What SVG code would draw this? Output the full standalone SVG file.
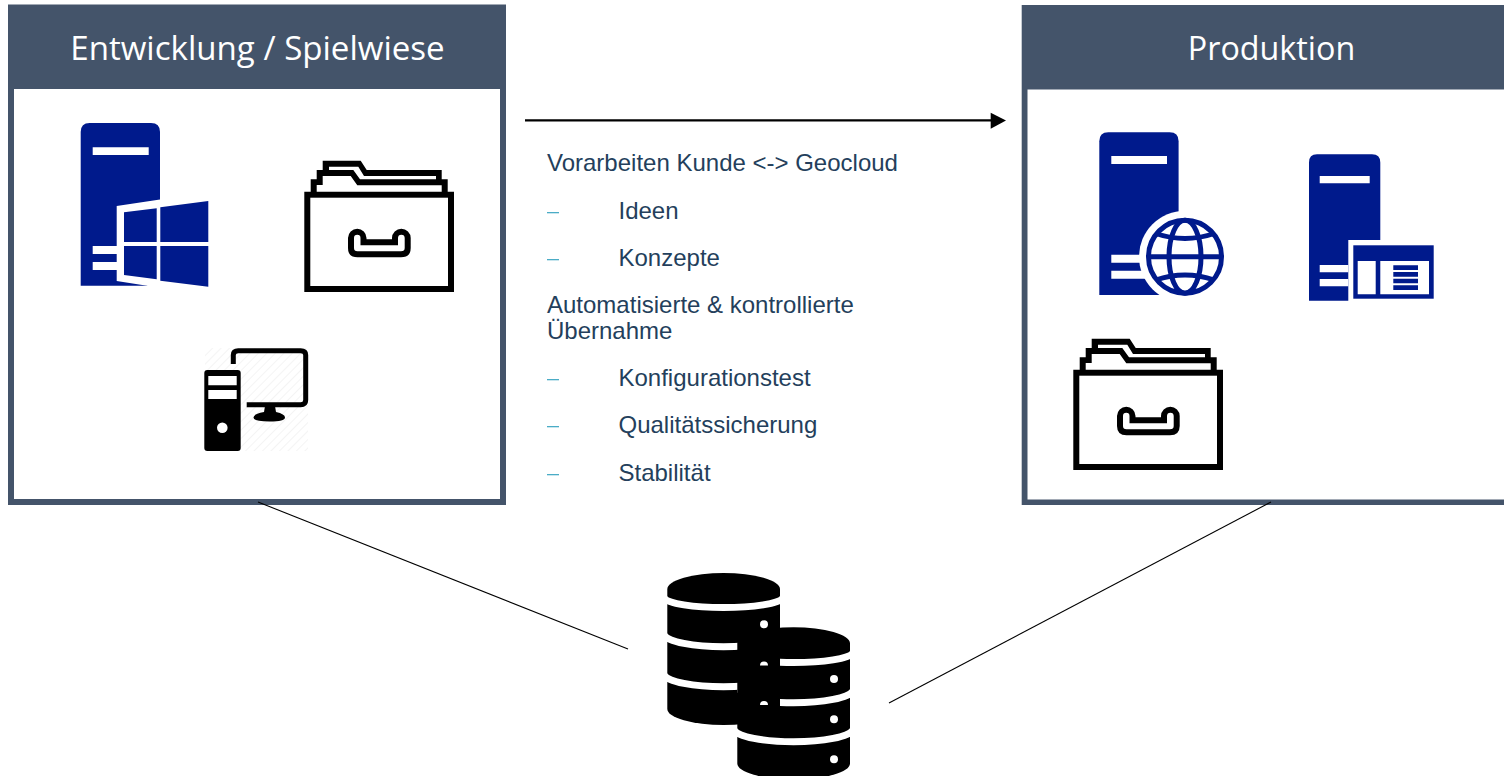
<svg xmlns="http://www.w3.org/2000/svg" xmlns:xlink="http://www.w3.org/1999/xlink" width="1504" height="776" viewBox="0 0 1504 776">
<style>
.head{font-family:"Open Sans","Noto Sans",sans-serif;font-weight:400;fill:#fff;text-anchor:middle}
.t{font-family:"Liberation Sans",Arial,sans-serif;font-size:24px;fill:#243f5c}
.dash{fill:#4bacc6}
.blue{fill:#001a8c}
.w{fill:#fff}
.ln{stroke:#000;stroke-width:1.1;fill:none}
.band{fill:none;stroke:#fff;stroke-width:7}
</style>
<defs>
<pattern id="hatch" width="6" height="6" patternUnits="userSpaceOnUse" patternTransform="rotate(-45)"><rect width="6" height="6" fill="#fff"/><rect width="6" height="1" fill="#f4f4f4"/></pattern>
<g id="folder">
<path d="M304.300 191.700H310.700V179.300H316.700V170H322.700V160.700H360.700L366.700 170H441.700V179.300H447.700V191.700H454V292H304.300Z" fill="#000"/>
<rect x="310.300" y="197.700" width="137.700" height="88.300" fill="#fff"/>
<path d="M329 166.700H358.300L364 176H436V179.300H360L353.300 170H329Z" fill="#fff"/>
<path d="M316.700 191.700V185H322.700V176H350.700L357.300 185.300H441.700V191.700Z" fill="#fff"/>
<path d="M351 238A6.200 6.200 0 0 1 363.500 238V242.300H395V238A6.200 6.200 0 0 1 407.700 238V248Q407.700 254.300 401 254.300H357.500Q351 254.300 351 248Z" fill="#fff" stroke="#000" stroke-width="6"/>
</g>
<path id="tower" d="M80.700 132Q80.700 123 89.700 123H151Q160 123 160 132V285.700H80.700Z"/>
</defs>

<g id="panel-entwicklung">
<rect x="8" y="4.500" width="498" height="500.500" fill="#44546a"/>
<rect x="14" y="89" width="486" height="410" fill="#fff"/>
<text class="head" x="257.500" y="60" font-size="33.100">Entwicklung / Spielwiese</text>
</g>

<g id="panel-produktion">
<rect x="1021.700" y="5" width="482.300" height="500" fill="#44546a"/>
<rect x="1027.500" y="89.500" width="476.500" height="410" fill="#fff"/>
<text class="head" x="1271.500" y="60" font-size="32.300">Produktion</text>
</g>

<g id="connectors">
<line class="ln" x1="258" y1="502" x2="628" y2="649"/>
<line class="ln" x1="1271" y1="502" x2="889" y2="703"/>
<line x1="525" y1="120.400" x2="992" y2="120.400" stroke="#000" stroke-width="2.400"/>
<path d="M990.700 112.700L1006 120.400L990.700 128.700Z" fill="#000"/>
</g>

<g id="server-windows">
<use xlink:href="#tower" href="#tower" class="blue"/>
<path class="w" d="M92.700 147.300H148.700V155H92.700ZM92.700 246H118V254H92.700ZM92.700 262H118V270H92.700Z"/>
<path class="w" d="M116.700 206L160 199.500L215 199V290H155L147 285.700L116.700 281Z"/>
<path class="blue" d="M124 212.300L156.700 208.300V242H124ZM160.300 207.300L208.300 201V242H160.300ZM124 246H156.700V279.300L124 275ZM160.300 246H208.300V286.700L160.300 280.700Z"/>
</g>

<g id="folder-dev"><use xlink:href="#folder" href="#folder"/></g>

<g id="desktop">
<rect x="205" y="348" width="103" height="103" fill="url(#hatch)"/>
<rect x="204.300" y="370" width="36.400" height="81" rx="3" fill="#000"/>
<path class="w" d="M208.300 376H236.700V385.300H208.300ZM208.300 390H236.700V399H208.300Z"/>
<circle class="w" cx="222.300" cy="427.700" r="5.300"/>
<path d="M233.300 364V355Q233.300 350.700 238.300 350.700H300.700Q305.700 350.700 305.700 355V400Q305.700 404.700 300.700 404.700H246.700" fill="none" stroke="#000" stroke-width="5"/>
<path d="M265 406H275L276 412Q285 414 285 417.500Q285 421.500 269.500 421.500Q253.500 421.500 253.500 417.500Q253.500 414 264 412Z" fill="#000"/>
</g>

<g id="server-globe">
<use xlink:href="#tower" href="#tower" class="blue" transform="translate(1018.600,9.300)"/>
<path class="w" d="M1111.300 156H1167V164H1111.300ZM1111.300 254.700H1145V262.700H1111.300ZM1111.300 270.700H1145V278.700H1111.300Z"/>
<circle class="w" cx="1185" cy="256.700" r="46"/>
<path class="w" d="M1180 290H1240V300H1180Z"/>
<g fill="none" stroke="#001a8c" stroke-width="5">
<circle cx="1185" cy="256.700" r="36.500"/>
<ellipse cx="1185" cy="256.700" rx="16" ry="36.500"/>
<path d="M1149 256.700H1221M1155.700 233.500Q1185 243.500 1214.300 233.500M1155.700 280Q1185 270 1214.300 280"/>
</g>
</g>

<g id="server-app">
<path class="blue" d="M1309 162.500Q1309 154.300 1317 154.300H1372Q1380.300 154.300 1380.300 162.500V240H1348.300V300.700H1309Z"/>
<path class="w" d="M1319.700 176H1369.700V183.300H1319.700ZM1319.700 265H1348.300V272.300H1319.700ZM1319.700 279H1348.300V286.300H1319.700Z"/>
<rect class="blue" x="1353.300" y="245.300" width="80.400" height="53.400"/>
<path class="w" d="M1357.700 261H1375.700V294.300H1357.700ZM1380.300 261H1429V294.300H1380.300Z"/>
<path class="blue" d="M1393.300 265.300H1418V270H1393.300ZM1393.300 272H1418V276.700H1393.300ZM1393.300 278.700H1418V283.300H1393.300ZM1393.300 285.300H1418V290H1393.300Z"/>
</g>

<g id="folder-prod"><use xlink:href="#folder" href="#folder" transform="translate(769,178)"/></g>

<g id="text-block">
<text class="t" x="547" y="171">Vorarbeiten Kunde &lt;-&gt; Geocloud</text>
<rect class="dash" x="547" y="212" width="12" height="1.300"/>
<text class="t" x="618.500" y="219">Ideen</text>
<rect class="dash" x="547" y="259" width="12" height="1.300"/>
<text class="t" x="618.500" y="266">Konzepte</text>
<text class="t" x="547" y="313">Automatisierte &amp; kontrollierte</text>
<text class="t" x="547" y="339">Übernahme</text>
<rect class="dash" x="547" y="379" width="12" height="1.300"/>
<text class="t" x="618.500" y="386">Konfigurationstest</text>
<rect class="dash" x="547" y="426" width="12" height="1.300"/>
<text class="t" x="618.500" y="433">Qualitätssicherung</text>
<rect class="dash" x="547" y="474" width="12" height="1.300"/>
<text class="t" x="618.500" y="481">Stabilität</text>
</g>

<g id="database">
<clipPath id="right-of-a"><rect x="780" y="600" width="80" height="180"/></clipPath>
<path d="M667.300 589A56.350 16 0 0 1 780 589V709A56.350 16 0 0 1 667.300 709Z" fill="#000"/>
<path class="band" d="M664 598A60 11 0 0 0 783 598"/>
<path class="band" d="M664 635A60 13.500 0 0 0 783 635"/>
<path class="band" d="M664 675A60 13.500 0 0 0 783 675"/>
<circle class="w" cx="764" cy="624.300" r="4"/>
<path class="w" d="M737.300 685L746.700 692.700H737.300Z"/>
<path d="M737.300 643.300A56.350 16 0 0 1 850 643.300V763.500A56.350 16 0 0 1 737.300 763.500Z" fill="#000"/>
<g clip-path="url(#right-of-a)">
<path class="band" d="M734 653A60 11 0 0 0 853 653"/>
<path class="band" d="M734 691A60 13.500 0 0 0 853 691"/>
</g>
<path class="band" d="M734 730A60 13.500 0 0 0 853 730"/>
<circle class="w" cx="834" cy="679" r="4"/>
<circle class="w" cx="834" cy="719.300" r="4"/>
<circle class="w" cx="834" cy="759.300" r="4"/>
<path class="w" d="M760 665.500A4 4 0 0 1 768 665.500ZM760 705A4 4 0 0 1 768 705Z"/>
</g>
</svg>
